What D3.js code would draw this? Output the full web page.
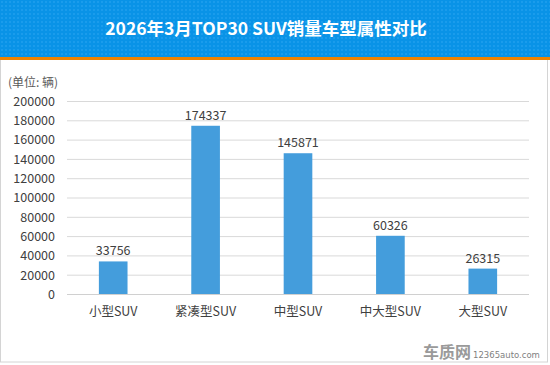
<!DOCTYPE html>
<html><head><meta charset="utf-8">
<script src="https://cdn.jsdelivr.net/npm/d3@7"></script>
<style>body{margin:0;background:#fff}svg{display:block}</style>
</head><body>
<script>
const categories = ["小型SUV","紧凑型SUV","中型SUV","中大型SUV","大型SUV"];
const sales = [33756,174337,145871,60326,26315];
const yTicks = [0,20000,40000,60000,80000,100000,120000,140000,160000,180000,200000];
const title = "2026年3月TOP30 SUV销量车型属性对比";
const unitLabel = "(单位: 辆)";

const W=550,H=365;
const svg=d3.select("body").append("svg").attr("width",W).attr("height",H);
const font="'Noto Sans CJK SC','Microsoft YaHei',sans-serif";

// background and border
svg.append("rect").attr("x",0.5).attr("y",0.5).attr("width",W-3).attr("height",H-3.5).attr("fill","#fff").attr("stroke","#d4d4d4");
// header
const defs=svg.append("defs");
const pat=defs.append("pattern").attr("id","dots").attr("width",4).attr("height",4).attr("patternUnits","userSpaceOnUse");
pat.append("rect").attr("width",4).attr("height",4).attr("fill","#0993e7");
pat.append("rect").attr("x",1).attr("y",1).attr("width",2).attr("height",2).attr("fill","#1a9cec");
svg.append("rect").attr("x",0).attr("y",0).attr("width",W).attr("height",57).attr("fill","url(#dots)");
svg.append("rect").attr("x",0).attr("y",57).attr("width",W).attr("height",3).attr("fill","#f08300");
svg.append("text").attr("x",266).attr("y",35).attr("text-anchor","middle").attr("fill","#fff")
  .attr("font-family",font).attr("font-weight","bold").attr("font-size",17.5).text(title);

const x=d3.scaleBand().domain(categories).range([67,529]).paddingInner(0.69).paddingOuter(0.345);
const y=d3.scaleLinear().domain([0,200000]).range([294,101]);

// grid
svg.append("g").selectAll("line").data(yTicks.slice(1)).join("line")
  .attr("x1",67).attr("x2",529).attr("y1",d=>y(d)+0.5).attr("y2",d=>y(d)+0.5).attr("stroke","#d9d9d9");

// y axis
const ya=svg.append("g").attr("transform","translate(60,0)")
  .call(d3.axisLeft(y).tickValues(yTicks).tickSize(0).tickPadding(6).tickFormat(d3.format("d")));
ya.select(".domain").remove();
ya.selectAll("text").attr("font-family",font).attr("font-size",12.5).attr("fill","#404040").attr("x",-5).attr("dy","0.35em");

// baseline
svg.append("line").attr("x1",67).attr("x2",529).attr("y1",294.5).attr("y2",294.5).attr("stroke","#d0d0d0");

// bars
svg.append("g").selectAll("rect").data(sales).join("rect")
  .attr("x",(d,i)=>x(categories[i])).attr("width",x.bandwidth())
  .attr("y",d=>y(d)).attr("height",d=>294-y(d)).attr("fill","#449ddc");

// value labels
svg.append("g").selectAll("text").data(sales).join("text")
  .attr("x",(d,i)=>x(categories[i])+x.bandwidth()/2).attr("y",d=>y(d)-6)
  .attr("text-anchor","middle").attr("font-family",font).attr("font-size",12.5).attr("fill","#404040").text(d=>d);

// x axis
const xa=svg.append("g").attr("transform","translate(0,294)")
  .call(d3.axisBottom(x).tickSize(0).tickPadding(13));
xa.select(".domain").remove();
xa.selectAll("text").attr("font-family",font).attr("font-size",12.5).attr("fill","#404040");

// unit
svg.append("text").attr("x",8).attr("y",87).attr("font-family",font).attr("font-size",12).attr("fill","#595959").text(unitLabel);

// watermark
svg.append("text").attr("x",423).attr("y",358).attr("font-family",font).attr("font-weight","bold").attr("font-size",16).attr("fill","#9a9a9a").text("车质网");
svg.append("text").attr("x",473).attr("y",358).attr("font-family","'DejaVu Sans',sans-serif").attr("font-size",8.5).attr("fill","#7f7f7f").text("12365auto.com");
</script>
</body></html>
